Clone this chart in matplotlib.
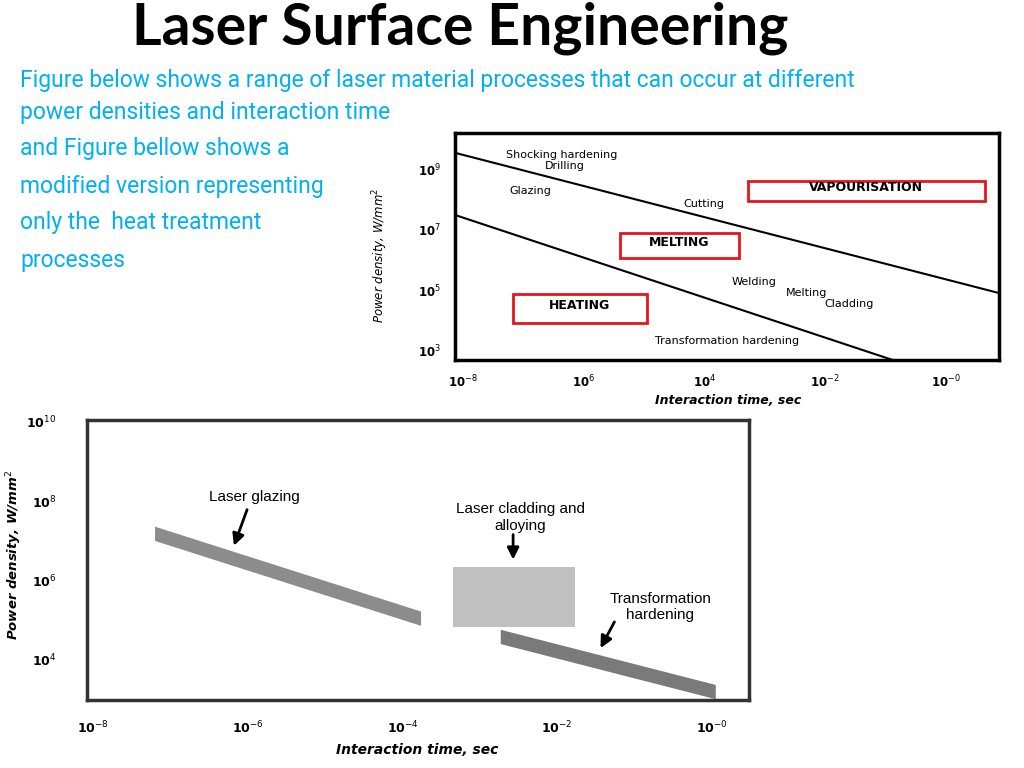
import matplotlib
matplotlib.use("Agg")
import matplotlib.pyplot as plt
from matplotlib.patches import Rectangle, Polygon

W, H = 1024, 768
BLUE = "#00b0f0"

# ---- data (log10 units) ----
top_xticks = [-8, -6, -4, -2, 0]
top_xticklabels = ["10$^{-8}$", "10$^{6}$", "10$^{4}$", "10$^{-2}$", "10$^{-0}$"]
top_yticks = [9, 7, 5, 3]
top_yticklabels = ["10$^{9}$", "10$^{7}$", "10$^{5}$", "10$^{3}$"]
upper_line_x = [-8.13, 0.88]
upper_line_y = [9.57, 4.9]
lower_line_x = [-8.13, -0.88]
lower_line_y = [7.5, 2.67]
top_labels = ["Shocking hardening", "Drilling", "Glazing", "Cutting", "Welding", "Melting", "Cladding", "Transformation hardening"]
top_label_x = [-6.36, -6.31, -6.89, -4.01, -3.18, -2.3, -1.6, -3.63]
top_label_y = [9.5, 9.12, 8.3, 7.87, 5.27, 4.9, 4.53, 3.3]
box_labels = ["VAPOURISATION", "MELTING", "HEATING"]
box_x0 = [-3.28, -5.4, -7.17]
box_x1 = [0.64, -3.43, -4.95]
box_y0 = [7.97, 6.07, 3.9]
box_y1 = [8.63, 6.9, 4.87]

bot_xticks = [-8, -6, -4, -2, 0]
bot_xticklabels = ["10$^{-8}$", "10$^{-6}$", "10$^{-4}$", "10$^{-2}$", "10$^{-0}$"]
bot_yticks = [10, 8, 6, 4]
bot_yticklabels = ["10$^{10}$", "10$^{8}$", "10$^{6}$", "10$^{4}$"]
glaze_x = [-7.2, -3.76]
glaze_y = [7.18, 5.04]
trans_x = [-2.73, 0.05]
trans_y = [4.58, 3.19]
band_half = 0.18
clad_x = [-3.35, -1.77]
clad_y = [4.83, 6.35]
ann_text = ["Laser glazing", "Laser cladding and\nalloying", "Transformation\nhardening"]
ann_text_xy = [(-5.91, 8.12), (-2.48, 7.59), (-0.67, 5.34)]
ann_tail = [(-6.01, 7.79), (-2.57, 7.16), (-1.26, 4.96)]
ann_tip = [(-6.18, 6.88), (-2.57, 6.53), (-1.44, 4.3)]

fig = plt.figure(figsize=(W / 100, H / 100), dpi=100)
def ft(x, y, s, **kw):
    fig.text(x / W, 1 - y / H, s, **kw)

ft(460, 28, "Laser Surface Engineering", fontsize=41, fontweight="bold", family="Lato", ha="center", va="center")
blue = dict(color=BLUE, fontsize=16.5, family="Roboto", va="center", ha="left")
ft(20, 81, "Figure below shows a range of laser material processes that can occur at different", **blue)
ft(20, 112, "power densities and interaction time", **blue)
ft(20, 149, "and Figure bellow shows a", **blue)
ft(20, 186, "modified version representing", **blue)
ft(20, 223, "only the  heat treatment", **blue)
ft(20, 260, "processes", **blue)

def axbox(x0, y0, x1, y1):
    return fig.add_axes([x0 / W, 1 - y1 / H, (x1 - x0) / W, (y1 - y0) / H])

# ---- top chart ----
ax = axbox(455, 133, 999, 360)
ax.set_xlim(-8.13, 0.88)
ax.set_ylim(2.67, 10.23)
for s in ax.spines.values():
    s.set_linewidth(2.5)
ax.tick_params(length=0, labelsize=8.5, pad=10)
ax.set_xticks(top_xticks, top_xticklabels, fontweight="bold")
ax.set_yticks(top_yticks, top_yticklabels, fontweight="bold")
ax.plot(upper_line_x, upper_line_y, color="black", lw=1.5)
ax.plot(lower_line_x, lower_line_y, color="black", lw=1.5)
for s, x, y in zip(top_labels, top_label_x, top_label_y):
    ax.text(x, y, s, fontsize=8, ha="center", va="center")
for s, a, b, c, d in zip(box_labels, box_x0, box_x1, box_y0, box_y1):
    ax.add_patch(Rectangle((a, c), b - a, d - c, fill=False, ec="#e8141c", lw=2))
    ax.text((a + b) / 2, (c + d) / 2 + 0.1, s, fontsize=9, fontweight="bold", ha="center", va="center")
ft(380, 255, "Power density, W/mm$^2$", rotation=90, fontsize=8.5, style="italic", ha="center", va="center")
ft(728, 400, "Interaction time, sec", fontsize=9, style="italic", fontweight="bold", ha="center", va="center")

# ---- bottom chart ----
ax2 = axbox(87, 420, 749, 700)
ax2.set_xlim(-8.08, 0.48)
ax2.set_ylim(2.99, 10.05)
for s in ax2.spines.values():
    s.set_linewidth(2.5)
    s.set_color("#333333")
ax2.tick_params(length=0, labelsize=9, pad=14)
ax2.set_xticks(bot_xticks, bot_xticklabels, fontweight="bold")
ax2.set_yticks(bot_yticks, bot_yticklabels, fontweight="bold")
ax2.tick_params(axis="y", pad=22)
for bx, by, col in [(glaze_x, glaze_y, "#8c8c8c"), (trans_x, trans_y, "#7a7a7a")]:
    pts = [(bx[0], by[0] + band_half), (bx[1], by[1] + band_half),
           (bx[1], by[1] - band_half), (bx[0], by[0] - band_half)]
    ax2.add_patch(Polygon(pts, closed=True, color=col, lw=0))
ax2.add_patch(Rectangle((clad_x[0], clad_y[0]), clad_x[1] - clad_x[0], clad_y[1] - clad_y[0], color="#c0c0c0", lw=0))
for s, txy, tail, tip in zip(ann_text, ann_text_xy, ann_tail, ann_tip):
    ax2.text(txy[0], txy[1], s, fontsize=11, ha="center", va="center", family="Liberation Sans")
    ax2.annotate("", xy=tip, xytext=tail,
                 arrowprops=dict(arrowstyle="-|>,head_width=0.35,head_length=0.7", color="black", lw=2,
                                 shrinkA=0, shrinkB=0))
ft(14, 555, "Power density, W/mm$^2$", rotation=90, fontsize=9.5, style="italic", fontweight="bold", ha="center", va="center")
ft(417, 750, "Interaction time, sec", fontsize=10, style="italic", fontweight="bold", ha="center", va="center")

fig.savefig("out.png", dpi=100)
